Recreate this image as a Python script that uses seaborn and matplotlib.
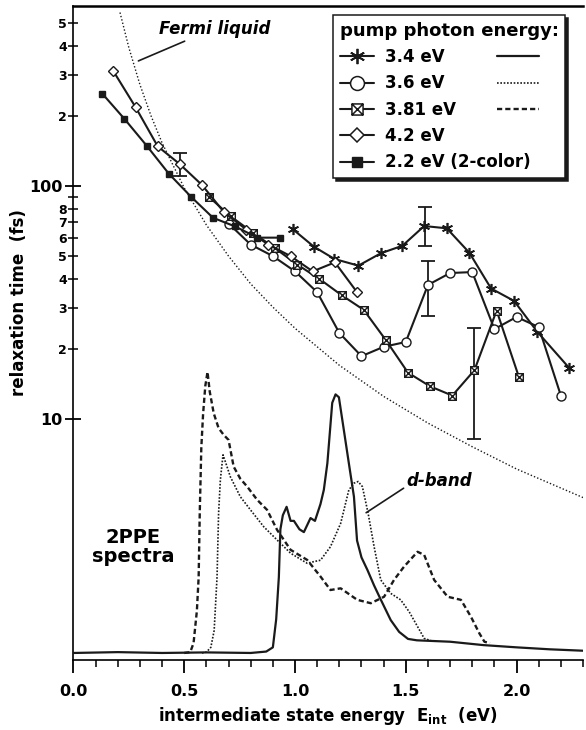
import matplotlib
matplotlib.use("Agg")
from matplotlib import pyplot as plt
from matplotlib.lines import Line2D
from matplotlib.path import Path
from matplotlib.ticker import FixedLocator, FixedFormatter
import seaborn as sns

# relaxation times (fs), per pump photon energy
e_34 = [0.99, 1.085, 1.178, 1.286, 1.387, 1.485, 1.583, 1.685, 1.787, 1.885, 1.989, 2.093, 2.239]
tau_34 = [65.2, 54.9, 48.6, 45.5, 51.4, 55.4, 67.3, 65.8, 51.7, 36.3, 32.1, 23.7, 16.5]

e_36 = [0.70, 0.80, 0.90, 1.00, 1.10, 1.20, 1.30, 1.40, 1.50, 1.60, 1.70, 1.80, 1.90, 2.00, 2.10, 2.20]
tau_36 = [69, 56, 50, 43, 35, 23.4, 18.6, 20.4, 21.4, 37.6, 42.3, 42.7, 24.3, 27.4, 24.8, 12.6]

e_381 = [0.61, 0.71, 0.81, 0.91, 1.01, 1.11, 1.21, 1.31, 1.41, 1.51, 1.61, 1.71, 1.81, 1.91, 2.01]
tau_381 = [90, 74, 63, 54, 46, 39.9, 34, 29.4, 21.8, 15.8, 13.8, 12.6, 16.2, 29.2, 15.2]

e_42 = [0.18, 0.28, 0.38, 0.48, 0.58, 0.68, 0.78, 0.88, 0.98, 1.08, 1.18, 1.28]
tau_42 = [311, 218, 148, 124, 101, 77, 65, 56, 50, 43, 47, 35]

e_22 = [0.13, 0.23, 0.33, 0.43, 0.53, 0.63, 0.73, 0.83, 0.93]
tau_22 = [249, 194, 149, 113, 90, 73, 67, 60, 60]

# error bars (x, centre, lower, upper)
err_e = [0.48, 1.585, 1.60, 1.81]
err_mid = [124, 67.3, 37.6, 16.2]
err_lo = [110, 55, 27.7, 8.2]
err_hi = [139, 81, 47.8, 24.5]

# Fermi liquid curve
fl_e = [0.21, 0.25, 0.3, 0.35, 0.4, 0.5, 0.6, 0.7, 0.8, 0.9, 1.0, 1.2, 1.4, 1.6, 1.8, 2.0, 2.3]
fl_tau = [555, 392, 272, 200, 153, 98, 68, 50, 38, 30.2, 24.5, 17, 12.5, 9.6, 7.6, 6.1, 4.6]

# 2PPE spectra (arb. units)
sp34_e = [0.0, 0.2, 0.4, 0.6, 0.8, 0.87, 0.90, 0.915, 0.927, 0.934, 0.945, 0.962, 0.98, 0.995, 1.02,
          1.04, 1.07, 1.09, 1.115, 1.13, 1.146, 1.168, 1.183, 1.198, 1.221, 1.243, 1.266, 1.28, 1.30,
          1.327, 1.357, 1.387, 1.432, 1.47, 1.51, 1.55, 1.7, 1.85, 2.0, 2.15, 2.3]
sp34_i = [0.0, 0.003, 0.0, 0.002, 0.0, 0.005, 0.02, 0.12, 0.27, 0.44, 0.49, 0.52, 0.47, 0.47, 0.44,
          0.43, 0.48, 0.47, 0.53, 0.58, 0.675, 0.89, 0.92, 0.91, 0.79, 0.675, 0.556, 0.40, 0.34,
          0.295, 0.24, 0.19, 0.117, 0.075, 0.05, 0.045, 0.04, 0.028, 0.02, 0.013, 0.008]

sp36_e = [0.58, 0.60, 0.62, 0.635, 0.648, 0.655, 0.663, 0.675, 0.69, 0.708, 0.753, 0.799, 0.859, 0.919,
          0.98, 1.055, 1.085, 1.115, 1.16, 1.206, 1.243, 1.266, 1.285, 1.304, 1.33, 1.357, 1.387,
          1.432, 1.477, 1.515, 1.553, 1.583, 1.62]
sp36_i = [0.0, 0.003, 0.02, 0.08, 0.27, 0.497, 0.616, 0.705, 0.67, 0.627, 0.556, 0.509, 0.449, 0.402,
          0.355, 0.319, 0.325, 0.33, 0.378, 0.461, 0.58, 0.604, 0.61, 0.592, 0.497, 0.378, 0.26,
          0.212, 0.189, 0.147, 0.094, 0.052, 0.042]

sp381_e = [0.50, 0.527, 0.542, 0.557, 0.565, 0.57, 0.577, 0.585, 0.595, 0.605, 0.615, 0.633, 0.655,
           0.678, 0.70, 0.723, 0.753, 0.784, 0.829, 0.874, 0.919, 0.98, 1.055, 1.115, 1.16, 1.206,
           1.281, 1.342, 1.402, 1.447, 1.492, 1.553, 1.583, 1.628, 1.689, 1.749, 1.794, 1.832, 1.855, 1.88]
sp381_i = [0.0, 0.003, 0.035, 0.15, 0.27, 0.5, 0.73, 0.85, 0.95, 1.0, 0.93, 0.853, 0.80,
           0.776, 0.758, 0.663, 0.62, 0.592, 0.545, 0.509, 0.438, 0.367, 0.331, 0.272, 0.224, 0.23,
           0.189, 0.177, 0.2, 0.26, 0.307, 0.36, 0.349, 0.26, 0.2, 0.189, 0.129, 0.07, 0.04, 0.035]

sns.set_theme(style="ticks")
plt.rcParams["font.family"] = ["DejaVu Sans"]
plt.rcParams["font.weight"] = "bold"
plt.rcParams["mathtext.fontset"] = "custom"
plt.rcParams["mathtext.bf"] = "DejaVu Sans:bold"
plt.rcParams["mathtext.rm"] = "DejaVu Sans:bold"
for key in ["text.color", "axes.labelcolor", "xtick.color", "ytick.color", "axes.edgecolor"]:
    plt.rcParams[key] = "black"

# square with an x inside
box_x = Path([(-1, -1), (1, -1), (1, 1), (-1, 1), (-1, -1), (-1, -1), (1, 1), (-1, 1), (1, -1)],
             [Path.MOVETO, Path.LINETO, Path.LINETO, Path.LINETO, Path.CLOSEPOLY,
              Path.MOVETO, Path.LINETO, Path.MOVETO, Path.LINETO])
star = (6, 2, 0)

fig = plt.figure(figsize=(5.86, 7.30), dpi=100)
ax = fig.add_axes([0.1254, 0.0959, 0.8695, 0.8959])
ax.set_yscale("log")

line_kw = dict(color="k", lw=1.5, estimator=None, sort=False, legend=False, ax=ax, zorder=3)

# step 1: Fermi liquid curve
sns.lineplot(x=fl_e, y=fl_tau, ax=ax, color="k", lw=1.0, linestyle=(0, (1, 1.5)), estimator=None,
             sort=False, legend=False)

# step 2: relaxation time series
sns.lineplot(x=e_34, y=tau_34, marker=star, markersize=8, markeredgecolor="k", markeredgewidth=1.2, **line_kw)
sns.lineplot(x=e_36, y=tau_36, marker="o", markersize=6.5, markerfacecolor="white",
             markeredgecolor="k", markeredgewidth=1.0, **line_kw)
sns.lineplot(x=e_381, y=tau_381, marker=box_x, markersize=5.5, markerfacecolor="white",
             markeredgecolor="k", markeredgewidth=1.0, **line_kw)
sns.lineplot(x=e_42, y=tau_42, marker="D", markersize=5, markerfacecolor="white",
             markeredgecolor="k", markeredgewidth=1.0, **line_kw)
sns.lineplot(x=e_22, y=tau_22, marker="s", markersize=4.5, markerfacecolor="k",
             markeredgecolor="k", markeredgewidth=1.0, **line_kw)

yerr = [[m - lo for m, lo in zip(err_mid, err_lo)],
        [hi - m for m, hi in zip(err_mid, err_hi)]]
ax.errorbar(err_e, err_mid, yerr=yerr, fmt="none", ecolor="k",
            elinewidth=1.3, capsize=5, capthick=1.3, zorder=2)

ax.set_xlim(0, 2.3)
ax.set_ylim(0.924, 592)

ax.yaxis.set_major_locator(FixedLocator([10, 100]))
ax.yaxis.set_major_formatter(FixedFormatter(["10", "100"]))
ax.yaxis.set_minor_locator(FixedLocator([20, 30, 40, 50, 60, 70, 80, 90, 200, 300, 400, 500]))
ax.yaxis.set_minor_formatter(FixedFormatter(["2", "3", "4", "5", "6", "7", "8", "", "2", "3", "4", "5"]))
ax.tick_params(axis="y", which="major", direction="inout", length=12, width=1.3, labelsize=11.5, pad=2)
ax.tick_params(axis="y", which="minor", direction="inout", length=7, width=1.1, labelsize=9, pad=1)

ax.set_xticks([0.0, 0.5, 1.0, 1.5, 2.0])
ax.set_xticklabels(["0.0", "0.5", "1.0", "1.5", "2.0"])
ax.set_xticks([i / 10 for i in range(24)], minor=True)
ax.tick_params(axis="x", which="major", direction="out", length=9.5, width=1.3, labelsize=11.5, pad=8)
ax.tick_params(axis="x", which="minor", direction="out", length=5, width=1.1)

for s in ["left", "bottom"]:
    ax.spines[s].set_linewidth(1.2)
ax.spines["top"].set_linewidth(1.8)
ax.spines["right"].set_visible(False)

ax.set_xlabel(r"intermediate state energy  E$_\mathbf{int}$  (eV)", fontsize=12, fontweight="bold", labelpad=4)
ax.set_ylabel("relaxation time  (fs)", fontsize=12, fontweight="bold")
ax.yaxis.set_label_coords(-0.089, 0.547)

ax.annotate("Fermi liquid", xy=(0.293, 344), xytext=(0.637, 472), fontsize=12, fontweight="bold",
            fontstyle="italic", ha="center", va="center",
            arrowprops=dict(arrowstyle="-", color="k", lw=1.2, shrinkA=0, shrinkB=0,
                            relpos=(0.3, 0.0)))

# step 3: spectra on a hidden linear axis
ax2 = ax.twinx()
ax2.set_ylim(-0.025, 2.302)
ax2.axis("off")
sns.lineplot(x=sp34_e, y=sp34_i, ax=ax2, color="k", lw=1.6, estimator=None, sort=False, legend=False)
sns.lineplot(x=sp36_e, y=sp36_i, ax=ax2, color="k", lw=1.2, linestyle=(0, (1, 1)),
             estimator=None, sort=False, legend=False)
sns.lineplot(x=sp381_e, y=sp381_i, ax=ax2, color="k", lw=1.7, linestyle=(0, (2.2, 1.3)),
             estimator=None, sort=False, legend=False)
ax2.set_xlim(0, 2.3)

ax2.annotate("d-band", xy=(1.321, 0.499), xytext=(1.653, 0.613), fontsize=12, fontweight="bold",
             fontstyle="italic", ha="center", va="center",
             arrowprops=dict(arrowstyle="-", color="k", lw=1.2, shrinkA=0, shrinkB=0,
                             relpos=(0.0, 0.2)))
ax2.text(0.269, 0.377, "2PPE\nspectra", fontsize=14, fontweight="bold", ha="center", va="center",
         linespacing=1.0)

# step 4: legend, markers in one box and spectrum line styles beside them
handles = [
    Line2D([], [], color="k", lw=1.5, marker=star, ms=11, mew=1.3),
    Line2D([], [], color="k", lw=1.5, marker="o", ms=10, mfc="white", mec="k", mew=1.1),
    Line2D([], [], color="k", lw=1.5, marker=box_x, ms=8, mfc="white", mec="k", mew=1.1),
    Line2D([], [], color="k", lw=1.5, marker="D", ms=7.5, mfc="white", mec="k", mew=1.1),
    Line2D([], [], color="k", lw=1.5, marker="s", ms=7.5, mfc="k", mec="k"),
]
labels = ["3.4 eV", "3.6 eV", "3.81 eV", "4.2 eV", "2.2 eV (2-color)"]
leg_kw = dict(loc="upper left", fontsize=12, labelspacing=0.5, borderpad=0.4, borderaxespad=0,
              title_fontproperties={"weight": "bold", "size": 13})
leg = ax.legend(handles, labels, title="pump photon energy:", bbox_to_anchor=(0.509, 0.986),
                handlelength=2.05, handletextpad=0.65, frameon=True, fancybox=False, edgecolor="k",
                framealpha=1, shadow={"color": "k", "alpha": 1}, alignment="left", **leg_kw)
leg.get_frame().set_linewidth(1.1)
ax.add_artist(leg)

styles = [
    Line2D([], [], color="k", lw=1.6),
    Line2D([], [], color="k", lw=1.2, linestyle=(0, (1, 1))),
    Line2D([], [], color="k", lw=1.7, linestyle=(0, (2.2, 1.3))),
]
leg2 = ax.legend(styles, [" ", " ", " "], title=" ", bbox_to_anchor=(0.818, 0.986),
                 handlelength=2.5, handletextpad=0.0, frameon=False, **leg_kw)
leg2.set_zorder(6)

fig.savefig("out.png", dpi=100)
